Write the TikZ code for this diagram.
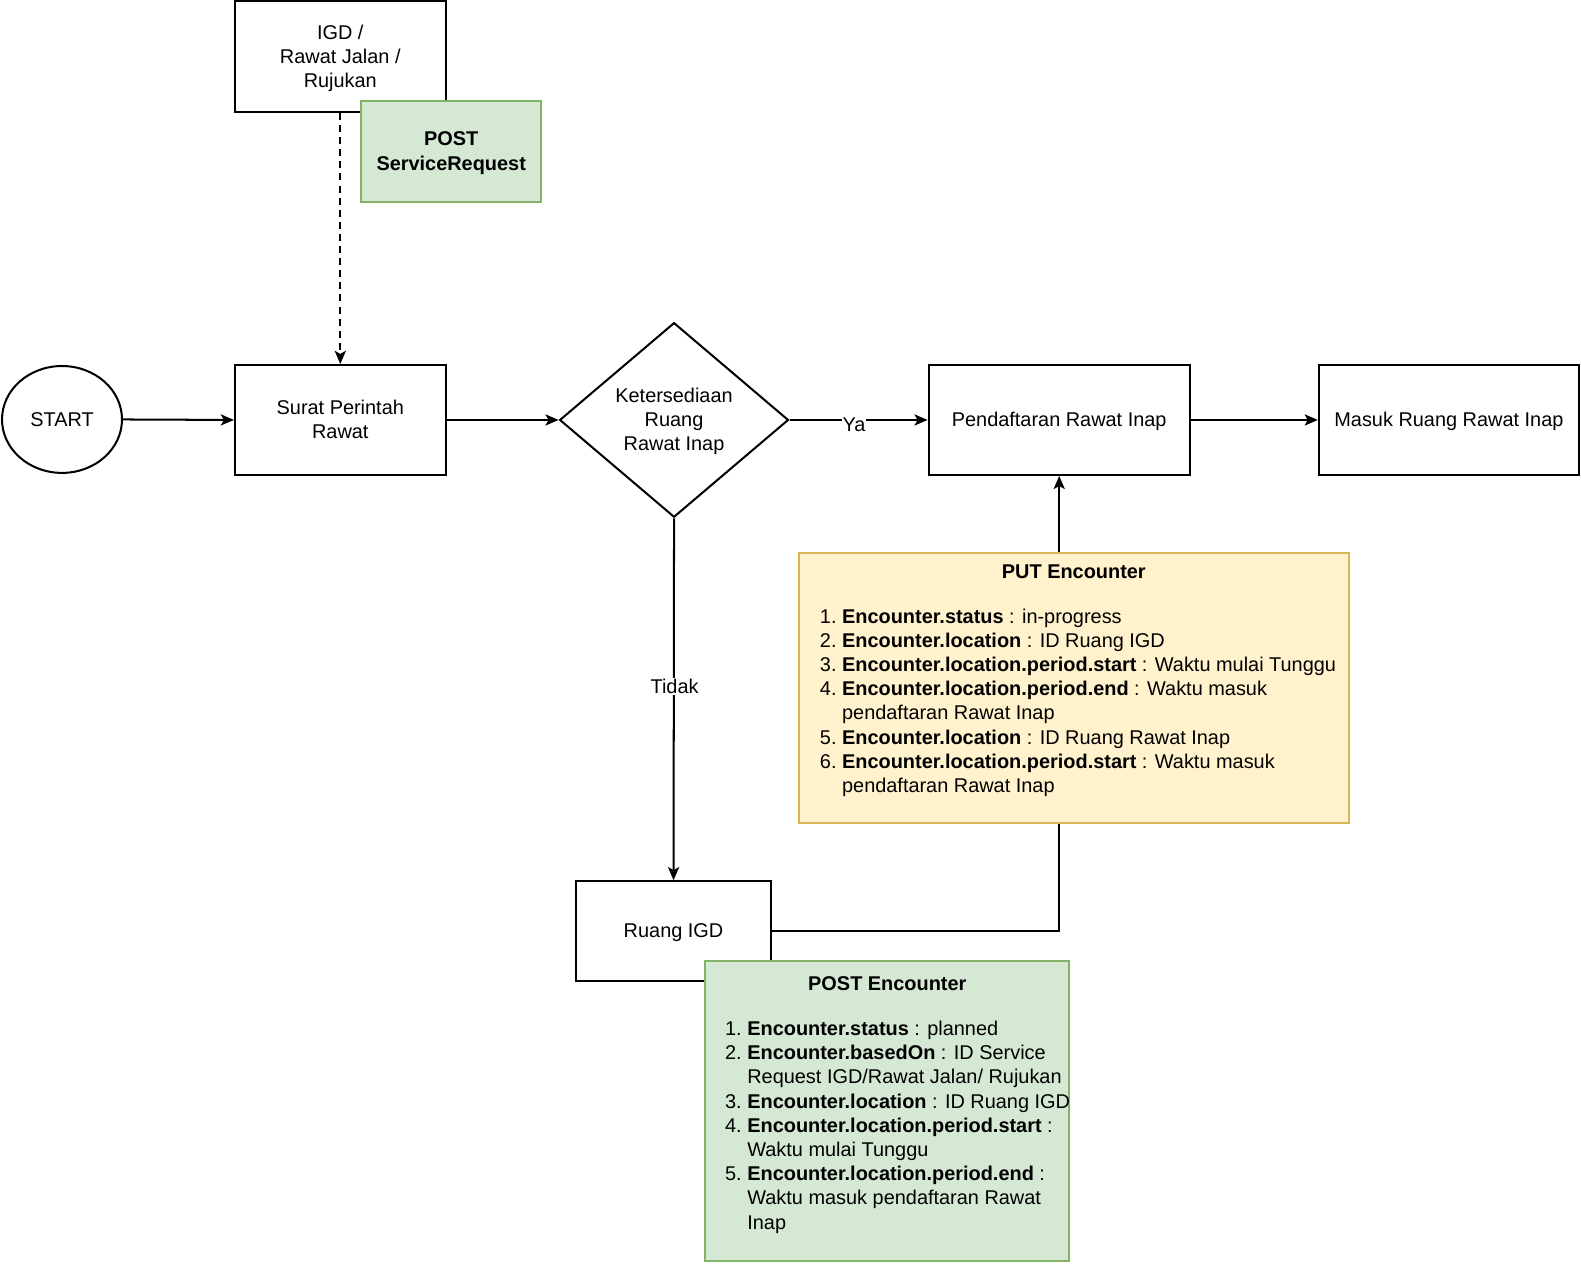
\documentclass[tikz,border=0pt]{standalone}
\usepackage{fontspec}
\setmainfont{Liberation Sans}
\usetikzlibrary{shapes.geometric,arrows.meta}
\definecolor{gfill}{HTML}{D5E8D4}
\definecolor{gdraw}{HTML}{82B366}
\definecolor{yfill}{HTML}{FFF2CC}
\definecolor{ydraw}{HTML}{D6B656}
\newcommand\lns{\rule[-5.3pt]{0pt}{24pt}}
\tikzset{
  every node/.style={font=\fontsize{19.75}{24}\selectfont},
  box/.style={draw, line width=2pt, fill=white, inner sep=0pt, align=center},
  greenbox/.style={draw=gdraw, line width=2pt, fill=gfill, inner sep=0pt, align=center},
  yellowbox/.style={draw=ydraw, line width=2pt, fill=yfill, inner sep=0pt},
  arr/.style={line width=2pt, -{Stealth[length=13pt,width=11pt,inset=3pt]}},
  lbl/.style={fill=white, inner sep=1pt},
  listtext/.style={inner sep=0pt, anchor=north west, align=left}
}
\begin{document}
\begin{tikzpicture}[x=1pt,y=-1pt]
\useasboundingbox (0,0) rectangle (1568,1253.6);
% nodes
\node[box, ellipse, minimum width=119pt, minimum height=106pt] (start) at (61.5,416) {\lns START};
\node[box, minimum width=209pt, minimum height=109pt] (srt) at (337.5,416.5) {\lns Surat Perintah\\\lns Rawat};
\node[box, minimum width=209pt, minimum height=110pt] (igd) at (337.5,56) {\lns IGD /\\\lns Rawat Jalan /\\\lns Rujukan};
\node[greenbox, minimum width=179pt, minimum height=100pt, font=\fontsize{19.75}{24}\selectfont\bfseries] (psr) at (447.5,150) {\lns POST\\\lns ServiceRequest};
\node[box, diamond, minimum width=227pt, minimum height=193pt, aspect=1.176] (dia) at (668.5,416.5) {\lns Ketersediaan\\\lns Ruang\\\lns Rawat Inap};
\node[box, minimum width=259pt, minimum height=109pt] (pend) at (1050.5,416.5) {\lns Pendaftaran Rawat Inap};
\node[box, minimum width=258pt, minimum height=109pt] (masuk) at (1437,416.5) {\lns Masuk Ruang Rawat Inap};
\node[box, minimum width=194pt, minimum height=99pt] (ruang) at (668,923.5) {\lns Ruang IGD};
% connectors
\draw[arr] (start.east) -- (srt.west);
\draw[arr, dash pattern=on 7pt off 5pt] (igd.south) -- (srt.north);
\draw[arr] (srt.east) -- (dia.west);
\draw[arr] (dia.east) -- (pend.west);
\node[lbl] (ya) at (847,421) {Ya};
\draw[arr] (pend.east) -- (masuk.west);
\draw[arr] (dia.south) -- (ruang.north);
\node[lbl] (tidak) at (669,681) {Tidak};
\draw[arr] (ruang.east) -| (pend.south);
% PUT Encounter
\node[yellowbox, minimum width=546pt, minimum height=268pt] (put) at (1065,682) {};
\node[inner sep=0pt, font=\fontsize{19.75}{24}\selectfont\bfseries] (puttitle) at (1065,567) {PUT Encounter};
\node[listtext] (putlist) at (813,601) {\begin{tabular}{@{}r@{\hspace{5.5pt}}l@{}}
1. & \textbf{Encounter.status} : in-progress\\
2. & \textbf{Encounter.location} : ID Ruang IGD\\
3. & \textbf{Encounter.location.period.start} : Waktu mulai Tunggu\\
4. & \textbf{Encounter.location.period.end} : Waktu masuk\\
   & pendaftaran Rawat Inap\\
5. & \textbf{Encounter.location} : ID Ruang Rawat Inap\\
6. & \textbf{Encounter.location.period.start} : Waktu masuk\\
   & pendaftaran Rawat Inap
\end{tabular}};
% POST Encounter
\node[greenbox, minimum width=361pt, minimum height=298pt] (pe) at (879.5,1102) {};
\node[inner sep=0pt, font=\fontsize{19.75}{24}\selectfont\bfseries] (petitle) at (880,976) {POST Encounter};
\node[listtext] (pelist) at (719,1010) {\begin{tabular}{@{}r@{\hspace{5.5pt}}l@{}}
1. & \textbf{Encounter.status} : planned\\
2. & \textbf{Encounter.basedOn} : ID Service\\
   & Request IGD/Rawat Jalan/ Rujukan\\
3. & \textbf{Encounter.location} : ID Ruang IGD\\
4. & \textbf{Encounter.location.period.start} :\\
   & Waktu mulai Tunggu\\
5. & \textbf{Encounter.location.period.end} :\\
   & Waktu masuk pendaftaran Rawat\\
   & Inap
\end{tabular}};
\end{tikzpicture}
\end{document}
